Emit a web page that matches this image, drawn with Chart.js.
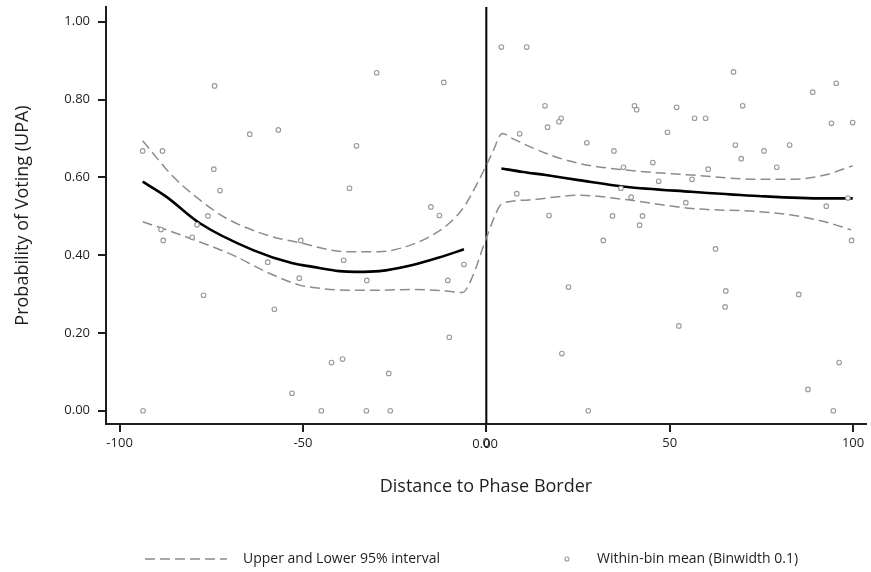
<!DOCTYPE html>
<html>
<head>
<meta charset="utf-8">
<script src="https://cdn.jsdelivr.net/npm/chart.js@4/dist/chart.umd.min.js"></script>
<style>
    html, body { margin: 0; padding: 0; background: #fff; }
    #wrap { position: relative; width: 871px; height: 572px; }
</style>
</head>
<body>
<div id="wrap"><canvas id="rd-chart"></canvas></div>
<script>
// ─── Data ────────────────────────────────────────────────────────────────────

// within-bin means (distance, share voting UPA)
const binX = [
    -93.7, -88.3, -74.1, -64.5, -56.7, -74.3, -72.6, -75.9, -88.7, -88.1,
    -78.9, -80.2, -77.1, -59.6, -57.8, -53.0, -93.6, -51.0, -50.6, -38.9,
    -32.6, -15.1, -12.8, -10.5,  -6.1, -10.1, -42.2, -39.2, -26.6, -45.0,
    -32.7, -26.2, -29.9, -11.6, -35.4, -37.3,
      4.1,  11.0,  16.0,  20.4,  19.8,  16.7,   9.1,   8.3,  17.1,  22.4,
     20.6,  67.4,  95.4,  89.0,  40.4,  41.0,  51.9,  69.9,  56.8,  59.8,
     94.1,  99.9,  49.4,  27.4,  34.8,  67.9,  75.7,  82.7,  69.5,  45.4,
     37.4,  60.5,  79.2,  47.0,  56.1,  36.7,  39.5,  54.4,  92.7,  98.6,
     34.4,  42.6,  41.8,  31.9,  99.6,  62.5,  65.3,  65.1,  85.2,  52.5,
     96.2,  87.7,  27.8,  94.6,
];
const binY = [
    0.668, 0.668, 0.835, 0.711, 0.722, 0.621, 0.566, 0.501, 0.466, 0.438,
    0.478, 0.446, 0.297, 0.382, 0.261, 0.045, 0.000, 0.341, 0.438, 0.387,
    0.335, 0.524, 0.502, 0.335, 0.376, 0.189, 0.124, 0.133, 0.096, 0.000,
    0.000, 0.000, 0.869, 0.844, 0.681, 0.572,
    0.935, 0.935, 0.784, 0.752, 0.743, 0.729, 0.712, 0.558, 0.502, 0.318,
    0.147, 0.871, 0.842, 0.819, 0.784, 0.774, 0.780, 0.784, 0.752, 0.752,
    0.739, 0.741, 0.716, 0.689, 0.668, 0.683, 0.668, 0.683, 0.648, 0.638,
    0.626, 0.621, 0.626, 0.590, 0.595, 0.572, 0.549, 0.535, 0.526, 0.547,
    0.501, 0.501, 0.477, 0.438, 0.438, 0.416, 0.308, 0.267, 0.299, 0.218,
    0.124, 0.055, 0.000, 0.000,
];

// local fit, left of the border
const fitLeftX = [-93.7, -87.2, -78.1, -63.6, -52.8, -47.3, -40.1, -35.5, -29.2, -20.1, -12.9, -6.1];
const fitLeftY = [0.589, 0.550, 0.482, 0.413, 0.379, 0.370, 0.359, 0.357, 0.359, 0.375, 0.394, 0.415];

// local fit, right of the border
const fitRightX = [4.1, 10.0, 16.2, 25.2, 37.9, 56.0, 74.2, 92.3, 99.9];
const fitRightY = [0.623, 0.614, 0.606, 0.593, 0.576, 0.563, 0.552, 0.546, 0.546];

// 95% band, upper edge
const upperX = [-93.7, -85.4, -78.1, -70.9, -60.0, -50.9, -38.2, -29.2, -21.9, -15.6, -10.1, -6.1, -2.0, 1.6, 4.4,
                7.1, 16.2, 25.2, 37.9, 56.0, 74.2, 83.2, 92.3, 99.9];
const upperY = [0.694, 0.602, 0.542, 0.495, 0.452, 0.432, 0.409, 0.409, 0.422, 0.447, 0.482, 0.524, 0.593, 0.662, 0.713,
                0.700, 0.662, 0.636, 0.619, 0.606, 0.595, 0.595, 0.606, 0.630];

// 95% band, lower edge
const lowerX = [-93.7, -87.2, -78.1, -69.1, -60.0, -50.9, -47.3, -38.2, -29.2, -20.1, -11.0, -6.5, -3.8, -0.2, 3.5, 4.4,
                11.6, 25.2, 37.9, 56.0, 74.2, 83.2, 92.3, 99.5];
const lowerY = [0.486, 0.465, 0.434, 0.400, 0.357, 0.323, 0.317, 0.310, 0.310, 0.312, 0.308, 0.304, 0.344, 0.439, 0.524, 0.533,
                0.542, 0.554, 0.543, 0.520, 0.512, 0.503, 0.486, 0.465];

const xTicks = [-100, -50, 0, 50, 100];
const yTicks = [0, 0.2, 0.4, 0.6, 0.8, 1.0];
const X_MIN = -103.7, X_MAX = 103.5;
const Y_MIN = -0.034, Y_MAX = 1.038;
const BORDER_AT = 0;

const pts = (xs, ys) => xs.map((x, i) => ({ x, y: ys[i] }));

// ─── Drawing helpers ─────────────────────────────────────────────────────────

const FONT = 'Open Sans';
const INK  = '#1e1e1e';

// label at the phase border and the legend row under the axis title
const extras = {
    id: 'extras',
    afterDraw(chart) {
        const { ctx, scales } = chart;
        const xs = scales.x;
        ctx.save();
        ctx.fillStyle = INK;
        ctx.font = `13px "${FONT}"`;
        ctx.textAlign = 'left';
        ctx.textBaseline = 'middle';
        ctx.fillText('0.00', xs.getPixelForValue(BORDER_AT) - 14, 444);

        const ly = 559;
        ctx.strokeStyle = '#8c8c8c';
        ctx.lineWidth = 1.5;
        ctx.setLineDash([10, 5]);
        ctx.beginPath();
        ctx.moveTo(145, ly);
        ctx.lineTo(227, ly);
        ctx.stroke();
        ctx.setLineDash([]);

        ctx.font = `14px "${FONT}"`;
        ctx.fillText('Upper and Lower 95% interval', 243, ly);

        ctx.strokeStyle = '#999';
        ctx.lineWidth = 1.1;
        ctx.beginPath();
        ctx.arc(567, ly, 2, 0, Math.PI * 2);
        ctx.stroke();
        ctx.fillText('Within-bin mean (Binwidth 0.1)', 597, ly);
        ctx.restore();
    },
};

const axisLine = { color: INK, width: 2 };
const tickGrid = { drawOnChartArea: false, drawTicks: true, tickLength: 8, color: INK, lineWidth: 2 };

new Chart(document.getElementById('rd-chart').getContext('2d'), {
    type: 'line',
    data: {
        datasets: [
            { type: 'scatter', label: 'Within-bin mean', data: pts(binX, binY), order: 0,
              pointRadius: 2.3, pointBorderWidth: 1.1, pointBorderColor: '#999', pointBackgroundColor: '#fff', showLine: false },
            { label: 'Fit left',  data: pts(fitLeftX, fitLeftY),   borderColor: '#000', borderWidth: 2.6, pointRadius: 0, cubicInterpolationMode: 'monotone', order: 1 },
            { label: 'Fit right', data: pts(fitRightX, fitRightY), borderColor: '#000', borderWidth: 2.6, pointRadius: 0, cubicInterpolationMode: 'monotone', order: 1 },
            { label: 'Upper 95%', data: pts(upperX, upperY), borderColor: '#8c8c8c', borderWidth: 1.5, borderDash: [10, 5], pointRadius: 0, cubicInterpolationMode: 'monotone', order: 2 },
            { label: 'Lower 95%', data: pts(lowerX, lowerY), borderColor: '#8c8c8c', borderWidth: 1.5, borderDash: [10, 5], pointRadius: 0, cubicInterpolationMode: 'monotone', order: 2 },
            { label: 'Border', data: [{ x: BORDER_AT, y: Y_MIN }, { x: BORDER_AT, y: Y_MAX }], borderColor: '#000', borderWidth: 2, pointRadius: 0, order: 3 },
        ],
    },
    options: {
        responsive: true,
        maintainAspectRatio: false,
        animation: false,
        layout: { padding: { left: 0, top: 7, right: 3, bottom: 74 } },
        plugins: {
            legend:  { display: false },
            tooltip: { enabled: false },
        },
        scales: {
            x: {
                type: 'linear',
                min: X_MIN, max: X_MAX,
                afterBuildTicks: s => { s.ticks = xTicks.map(v => ({ value: v })); },
                afterFit: s => { s.height = 74; s.paddingLeft = 0; s.paddingRight = 0; },
                ticks: { color: INK, font: { size: 13, family: FONT }, padding: 3, maxRotation: 0 },
                grid: tickGrid,
                border: axisLine,
                title: { display: true, text: 'Distance to Phase Border', color: INK,
                         font: { size: 18, family: FONT }, padding: { top: 0, bottom: 0 } },
            },
            y: {
                type: 'linear',
                min: Y_MIN, max: Y_MAX,
                afterBuildTicks: s => { s.ticks = yTicks.map(v => ({ value: v })); },
                afterFit: s => { s.width = 106; s.paddingTop = 0; s.paddingBottom = 0; },
                ticks: { color: INK, font: { size: 13, family: FONT }, padding: 8, callback: v => v.toFixed(2) },
                grid: tickGrid,
                border: axisLine,
                title: { display: true, text: 'Probability of Voting (UPA)', color: INK,
                         font: { size: 18, family: FONT }, padding: { top: 12, bottom: 0 } },
            },
        },
    },
    plugins: [extras],
});
</script>
</body>
</html>
